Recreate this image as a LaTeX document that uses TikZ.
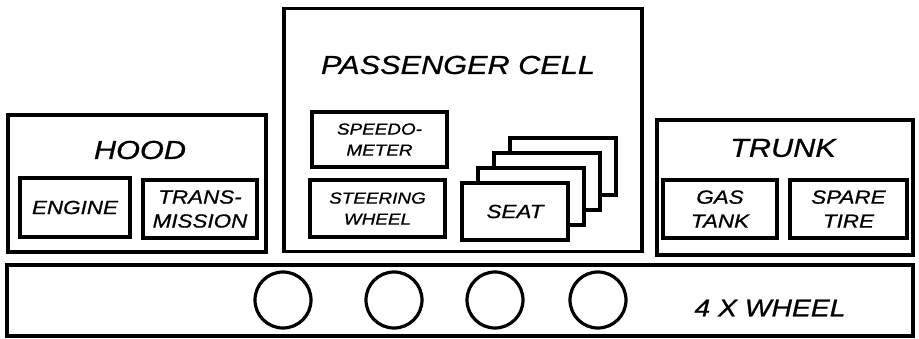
\documentclass[tikz,border=0pt]{standalone}
\usepackage{fontspec}
\setmainfont{Liberation Sans}[FakeStretch=1.18, FakeBold=0.8]
\begin{document}
\begin{tikzpicture}[x=1pt, y=-1pt,
		box/.style={draw, line width=3.2pt, align=center, inner sep=0pt},
		part/.style={box, fill=white, font=\fontsize{19}{24}\selectfont\itshape},
		smallpart/.style={part, font=\fontsize{16}{21}\selectfont\itshape},
		title/.style={font=\fontsize{26}{30}\selectfont\itshape}]
	\useasboundingbox (0,0) rectangle (919,339);
	
	% 车头（发动机舱）
	\node[box, minimum width=258, minimum height=137] (hood) at (137,183.5) {};
	\node[title] (hoodtitle) at (140,150) {HOOD};
	\node[part, minimum width=110, minimum height=59] (engine) at (75,207.5) {ENGINE};
	\node[part, minimum width=114, minimum height=58] (trans) at (200,209) {TRANS-\\MISSION};
	
	% 乘员舱
	\node[box, minimum width=358, minimum height=243] (cell) at (463,130) {};
	\node[title] (celltitle) at (458,65) {PASSENGER CELL};
	\node[smallpart, minimum width=135, minimum height=55] (speedo) at (379.5,139.5) {SPEEDO-\\METER};
	\node[smallpart, minimum width=135, minimum height=57] (steer) at (377.5,208.5) {STEERING\\WHEEL};
	
	% 座椅（从后往前叠放）
	\foreach \i in {3,2,1}
		\node[part, minimum width=106, minimum height=57] (seat\i) at ({515+16*\i},{211.5-15*\i}) {};
	\node[part, minimum width=106, minimum height=57] (seat) at (515,211.5) {SEAT};
	
	% 后备箱
	\node[box, minimum width=256, minimum height=135] (trunk) at (785,187.5) {};
	\node[title] (trunktitle) at (783,148) {TRUNK};
	\node[part, minimum width=114, minimum height=58] (gas) at (720,209) {GAS\\TANK};
	\node[part, minimum width=117, minimum height=58] (spare) at (848.5,209) {SPARE\\TIRE};
	
	% 底盘与车轮
	\node[box, minimum width=906, minimum height=71] (chassis) at (460,300.5) {};
	\foreach \x [count=\i] in {283,394,495,598}
		\node[draw, circle, line width=3.2pt, minimum size=56] (wheel\i) at (\x,300) {};
	\node[font=\fontsize{24}{28}\selectfont\itshape] (wheellabel) at (770,308) {4 X WHEEL};
\end{tikzpicture}
\end{document}
